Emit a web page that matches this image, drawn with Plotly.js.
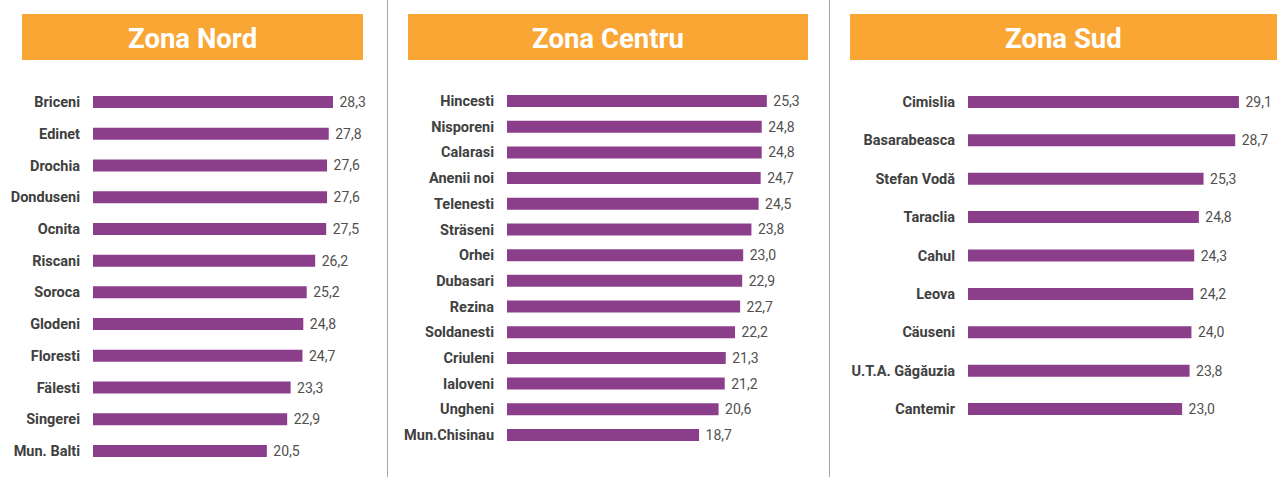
<!DOCTYPE html>
<html>
<head>
<meta charset="utf-8">
<script src="https://cdn.plot.ly/plotly-3.0.1.min.js"></script>
<style>html,body{margin:0;padding:0;background:#fff;}#chart{width:1285px;height:477px;}</style>
</head>
<body>
<div id="chart"></div>
<script>
// ---- data ----
const nordNames = ["Briceni","Edinet","Drochia","Donduseni","Ocnita","Riscani","Soroca","Glodeni","Floresti","Fälesti","Singerei","Mun. Balti"];
const nordValues = [28.3,27.8,27.6,27.6,27.5,26.2,25.2,24.8,24.7,23.3,22.9,20.5];
const centruNames = ["Hincesti","Nisporeni","Calarasi","Anenii noi","Telenesti","Sträseni","Orhei","Dubasari","Rezina","Soldanesti","Criuleni","Ialoveni","Ungheni","Mun.Chisinau"];
const centruValues = [25.3,24.8,24.8,24.7,24.5,23.8,23.0,22.9,22.7,22.2,21.3,21.2,20.6,18.7];
const sudNames = ["Cimislia","Basarabeasca","Stefan Vodă","Taraclia","Cahul","Leova","Cäuseni","U.T.A. Găgăuzia","Cantemir"];
const sudValues = [29.1,28.7,25.3,24.8,24.3,24.2,24.0,23.8,23.0];
const panelTitles = ["Zona Nord","Zona Centru","Zona Sud"];

// ---- layout geometry (pixels) ----
const W = 1285, H = 477;
const panels = [
  {names: nordNames, values: nordValues, left: 93, right: 383, ppu: 8.48, top: 86.2, bottom: 466.8, box: [22, 363]},
  {names: centruNames, values: centruValues, left: 507, right: 825, ppu: 10.27, top: 88.2, bottom: 447.8, box: [408, 808]},
  {names: sudNames, values: sudValues, left: 968, right: 1283, ppu: 9.31, top: 82.8, bottom: 428.2, box: [850, 1277]}
];
const purple = "#8B3F8B";
const orange = "#F9A635";
const labelColor = "#404040";

const data = [];
const layout = {
  width: W, height: H,
  margin: {l: 0, r: 0, t: 0, b: 0},
  paper_bgcolor: "#fff", plot_bgcolor: "rgba(0,0,0,0)",
  showlegend: false,
  separators: ",.",
  font: {family: "Roboto, Arial, sans-serif", color: labelColor},
  shapes: [], annotations: []
};

panels.forEach((p, i) => {
  const n = p.names.length;
  const spacing = (p.bottom - p.top) / n;
  const sfx = i === 0 ? "" : String(i + 1);
  data.push({
    type: "bar", orientation: "h",
    x: p.values, y: p.names,
    xaxis: "x" + sfx, yaxis: "y" + sfx,
    marker: {color: purple},
    width: 12 / spacing,
    texttemplate: "\u00a0%{x:.1f}",
    textposition: "outside",
    constraintext: "none",
    cliponaxis: false,
    textfont: {family: "Roboto, Arial, sans-serif", size: 14, color: "#505050"},
    hoverinfo: "skip"
  });
  layout["xaxis" + sfx] = {
    domain: [p.left / W, p.right / W],
    range: [0, (p.right - p.left) / p.ppu],
    anchor: "y" + sfx,
    showgrid: false, zeroline: false, showline: false, showticklabels: false, ticks: ""
  };
  layout["yaxis" + sfx] = {
    domain: [1 - p.bottom / H, 1 - p.top / H],
    anchor: "x" + sfx,
    type: "category",
    autorange: "reversed",
    showgrid: false, zeroline: false, showline: false,
    ticks: "", ticklabelstandoff: 12,
    tickfont: {family: "Roboto, Arial, sans-serif", size: 14.5, color: labelColor, weight: "bold"}
  };
  layout.shapes.push({
    type: "rect", xref: "paper", yref: "paper",
    x0: p.box[0] / W, x1: p.box[1] / W, y0: 1 - 60 / H, y1: 1 - 14 / H,
    fillcolor: orange, line: {width: 0}, layer: "below"
  });
  layout.annotations.push({
    xref: "paper", yref: "paper",
    x: (p.box[0] + p.box[1]) / 2 / W, y: 1 - 38 / H,
    xanchor: "center", yanchor: "middle",
    text: "<b>" + panelTitles[i] + "</b>", showarrow: false,
    font: {family: "Roboto, Arial, sans-serif", size: 27.5, color: "#ffffff"}
  });
});

[387.5, 829.5].forEach(x => {
  layout.shapes.push({
    type: "line", xref: "paper", yref: "paper",
    x0: x / W, x1: x / W, y0: 0, y1: 1,
    line: {color: "#A6A6A6", width: 1}
  });
});

Plotly.newPlot("chart", data, layout, {displayModeBar: false, staticPlot: true});
</script>
</body>
</html>
